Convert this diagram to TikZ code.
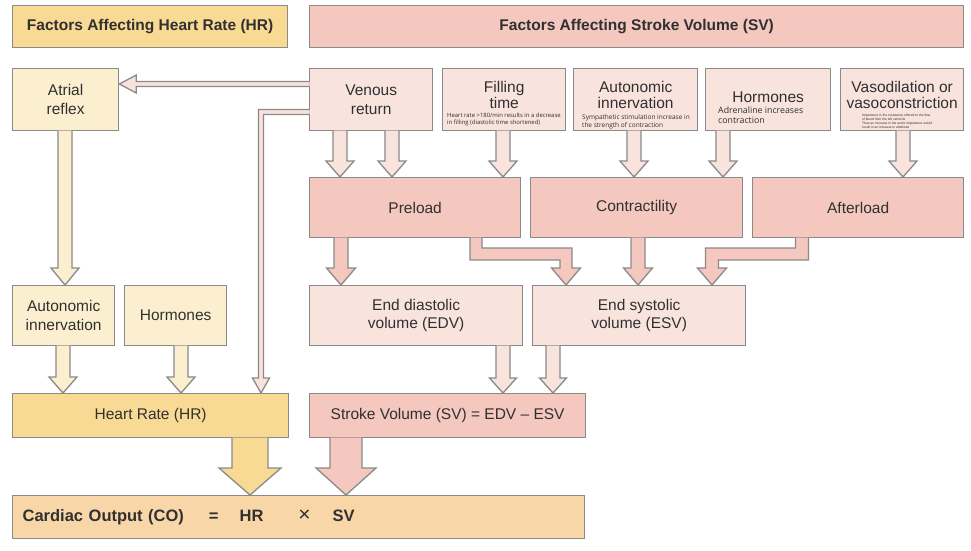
\documentclass[tikz,border=0pt]{standalone}
\usepackage{fontspec}
\setmainfont{Liberation Sans}
\newfontfamily\notefont{Open Sans}
\usetikzlibrary{calc}
\definecolor{edge}{RGB}{138,138,138}
\definecolor{txt}{RGB}{48,48,48}
\definecolor{yelS}{RGB}{249,218,148}
\definecolor{yelL}{RGB}{252,239,208}
\definecolor{pinkS}{RGB}{244,200,190}
\definecolor{pinkL}{RGB}{249,227,221}
\definecolor{coC}{RGB}{249,214,168}
% vertical block arrow: #1 style, #2 start, #3 tip, #4 half shaft, #5 half head, #6 head length
\newcommand\blockdown[6]{%
  \draw[#1] let \p1=#2, \p2=#3 in
    (\x1-#4pt,\y1+0.7pt) -- (\x1-#4pt,\y2+#6pt) -- (\x1-#5pt,\y2+#6pt) -- (\x2,\y2)
    -- (\x1+#5pt,\y2+#6pt) -- (\x1+#4pt,\y2+#6pt) -- (\x1+#4pt,\y1+0.7pt);}
\tikzset{
  box/.style={draw=edge, line width=1.3pt, anchor=north west, inner sep=0pt, align=center,
    text=txt, font=\fontsize{15.5}{18.5}\selectfont},
  titled/.style={box, font=\fontsize{15.5}{16.5}\selectfont, text depth=#1},
  hdr/.style={box, font=\bfseries\fontsize{15.5}{18}\selectfont},
  note/.style={anchor=north west, inner sep=0pt, align=left, text=txt},
  arr/.style={draw=edge, line width=1.3pt, line join=miter},
  arrPL/.style={arr, fill=pinkL},
  arrPS/.style={arr, fill=pinkS},
  arrYL/.style={arr, fill=yelL},
  arrYS/.style={arr, fill=yelS},
}
\begin{document}
\begin{tikzpicture}[x=1pt,y=-1pt]
\useasboundingbox (0,0) rectangle (971,550);
\fill[white] (0,0) rectangle (971,550);

% headers
\node[hdr, fill=yelS, minimum width=275pt, minimum height=42pt] (hdrHR) at (12,5) {Factors Affecting Heart Rate (HR)};
\node[hdr, fill=pinkS, minimum width=654pt, minimum height=42pt] (hdrSV) at (309,5) {Factors Affecting Stroke Volume (SV)};

% top row
\node[box, fill=yelL, minimum width=106pt, minimum height=62pt] (atr) at (12,68) {Atrial\\reflex};
\node[box, fill=pinkL, minimum width=123pt, minimum height=62pt] (ven) at (309,68) {Venous\\return};
\node[titled=10pt, fill=pinkL, minimum width=123pt, minimum height=62pt] (fil) at (442,68) {Filling\\time};
\node[titled=10pt, fill=pinkL, minimum width=124pt, minimum height=62pt] (aut) at (573,68) {Autonomic\\innervation};
\node[titled=5pt, fill=pinkL, minimum width=125pt, minimum height=62pt] (hor) at (705,68) {Hormones};
\node[titled=10pt, fill=pinkL, minimum width=123pt, minimum height=62pt] (vas) at (840,68) {Vasodilation or\\vasoconstriction};

% notes
\node[note, font=\notefont\fontsize{5.9}{7.8}\selectfont] (filnote) at (447,112.5) {Heart rate >180/min results in a decrease\\in filling (diastolic time shortened)};
\node[note, font=\notefont\fontsize{6.5}{8}\selectfont] (autnote) at (582,114) {Sympathetic stimulation increase in\\the strength of contraction};
\node[note, font=\notefont\fontsize{8.8}{10}\selectfont] (hornote) at (718,107) {Adrenaline increases\\contraction};
\node[note, font=\fontsize{3.3}{4.2}\selectfont] (vasnote) at (862,113.5) {Impedance is the resistance offered to the flow\\of blood from the left ventricle\\Thus an increase in the aortic impedance would\\result in an increase in afterload};

% second row
\node[box, fill=pinkS, minimum width=211pt, minimum height=60pt] (pre) at (309,177) {Preload};
\node[box, fill=pinkS, minimum width=212pt, minimum height=60pt] (con) at (530,177) {Contractility};
\node[box, fill=pinkS, minimum width=211pt, minimum height=60pt] (aft) at (752,177) {Afterload};

% third row
\node[box, fill=yelL, minimum width=102pt, minimum height=60pt] (autHR) at (12,285) {Autonomic\\innervation};
\node[box, fill=yelL, minimum width=102pt, minimum height=60pt] (horHR) at (124,285) {Hormones};
\node[box, fill=pinkL, minimum width=213pt, minimum height=60pt] (edv) at (309,285) {End diastolic\\volume (EDV)};
\node[box, fill=pinkL, minimum width=213pt, minimum height=60pt] (esv) at (532,285) {End systolic\\volume (ESV)};

% fourth row
\node[box, fill=yelS, minimum width=276pt, minimum height=44pt] (hr) at (12,393) {Heart Rate (HR)};
\node[box, fill=pinkS, minimum width=276pt, minimum height=44pt] (sv) at (309,393) {Stroke Volume (SV) = EDV -- ESV};

% cardiac output
\node[box, fill=coC, minimum width=572pt, minimum height=43pt, text width=552pt, inner xsep=10pt, align=left,
  font=\bfseries\fontsize{16.5}{19}\selectfont] (co) at (12,495)
  {Cardiac Output (CO)\hspace{25pt}=\hspace{21pt}HR\hspace{35pt}{\mdseries\fontsize{21}{19}\selectfont ×}\hspace{22pt}SV};

% ---------- connectors ----------
% thin arrows from venous return
\draw[arrPL] let \p1=(ven.west |- 0,84), \p2=(atr.east |- 0,84) in
  (\x1+0.7pt,\y1+2.5pt) -- (\x2+17pt,\y1+2.5pt) -- (\x2+17pt,\y1+9pt) -- (\x2,\y1)
  -- (\x2+17pt,\y1-9pt) -- (\x2+17pt,\y1-2.5pt) -- (\x1+0.7pt,\y1-2.5pt);
\draw[arrPL] let \p1=(ven.west |- 0,112), \p2=(261,0 |- hr.north) in
  (\x1+0.7pt,\y1+2.5pt) -- (\x2-2.5pt,\y1+2.5pt) -- (\x2-2.5pt,\y2+15pt) -- (\x2-8.5pt,\y2+15pt) -- (\x2,\y2)
  -- (\x2+8.5pt,\y2+15pt) -- (\x2+2.5pt,\y2+15pt) -- (\x2+2.5pt,\y1-2.5pt) -- (\x1+0.7pt,\y1-2.5pt);

% into preload / contractility / afterload
\blockdown{arrPL}{(340,0 |- ven.south)}{(340,0 |- pre.north)}{7}{14}{16}
\blockdown{arrPL}{(392,0 |- ven.south)}{(392,0 |- pre.north)}{7}{14}{16}
\blockdown{arrPL}{(503,0 |- fil.south)}{(503,0 |- pre.north)}{7}{14}{16}
\blockdown{arrPL}{(634,0 |- aut.south)}{(634,0 |- con.north)}{7}{14}{16}
\blockdown{arrPL}{(723,0 |- hor.south)}{(723,0 |- con.north)}{7}{14}{16}
\blockdown{arrPL}{(903,0 |- vas.south)}{(903,0 |- aft.north)}{7}{14}{16}

% into EDV / ESV
\blockdown{arrPS}{(341,0 |- pre.south)}{(341,0 |- edv.north)}{7}{14.5}{17}
\blockdown{arrPS}{(638,0 |- con.south)}{(638,0 |- esv.north)}{7}{14.5}{17}
\draw[arrPS] let \p1=(476,0 |- pre.south), \p2=(566,0 |- esv.north) in
  (\x1-6pt,\y1+0.7pt) -- (\x1-6pt,-260pt) -- (\x2-6pt,-260pt) -- (\x2-6pt,\y2+17pt) -- (\x2-14.5pt,\y2+17pt) -- (\x2,\y2)
  -- (\x2+14.5pt,\y2+17pt) -- (\x2+6pt,\y2+17pt) -- (\x2+6pt,-248pt) -- (\x1+6pt,-248pt) -- (\x1+6pt,\y1+0.7pt);
\draw[arrPS] let \p1=(802,0 |- aft.south), \p2=(712,0 |- esv.north) in
  (\x1+6.5pt,\y1+0.7pt) -- (\x1+6.5pt,-260pt) -- (\x2+6.5pt,-260pt) -- (\x2+6.5pt,\y2+17pt) -- (\x2+14.5pt,\y2+17pt) -- (\x2,\y2)
  -- (\x2-14.5pt,\y2+17pt) -- (\x2-6.5pt,\y2+17pt) -- (\x2-6.5pt,-248pt) -- (\x1-6.5pt,-248pt) -- (\x1-6.5pt,\y1+0.7pt);

% into stroke volume
\blockdown{arrPL}{(503,0 |- edv.south)}{(503,0 |- sv.north)}{7}{13.5}{15}
\blockdown{arrPL}{(553,0 |- esv.south)}{(553,0 |- sv.north)}{7}{13.5}{15}

% heart rate side
\blockdown{arrYL}{(65,0 |- atr.south)}{(65,0 |- autHR.north)}{7}{14}{17}
\blockdown{arrYL}{(63,0 |- autHR.south)}{(63,0 |- hr.north)}{7}{14}{16}
\blockdown{arrYL}{(181,0 |- horHR.south)}{(181,0 |- hr.north)}{7}{14}{16}

% into cardiac output
\blockdown{arrYS}{(250,0 |- hr.south)}{(250,0 |- co.north)}{18}{31}{27}
\blockdown{arrPS}{(346,0 |- sv.south)}{(346,0 |- co.north)}{16}{30}{27}
\end{tikzpicture}
\end{document}
